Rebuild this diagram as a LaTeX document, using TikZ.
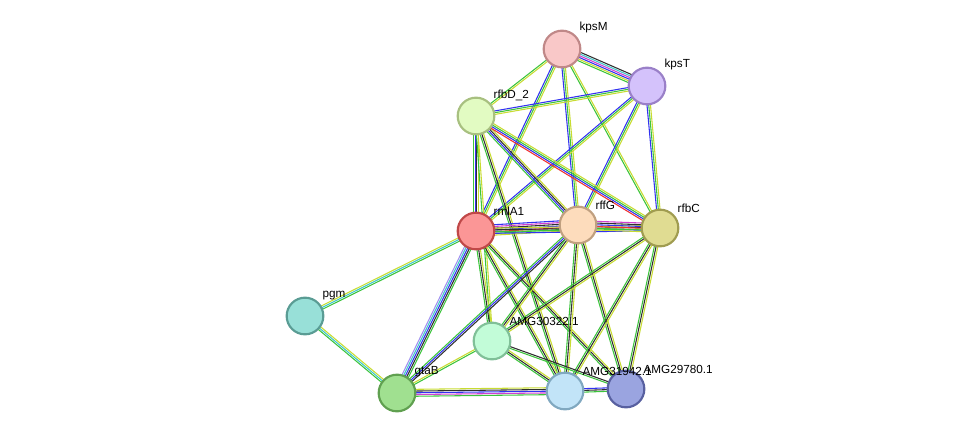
\documentclass[tikz,border=0pt]{standalone}
\usepackage{fontspec}
\setmainfont{Liberation Sans}
\usetikzlibrary{calc}
\pgfdeclarelayer{bg}\pgfsetlayers{bg,main}
\definecolor{G}{HTML}{3CC43C}
\definecolor{Y}{HTML}{C8DC32}
\definecolor{B}{HTML}{3232F0}
\definecolor{K}{HTML}{303030}
\definecolor{R}{HTML}{F03030}
\definecolor{M}{HTML}{D040D0}
\definecolor{C}{HTML}{40C8C8}
\definecolor{P}{HTML}{A090F0}
\newcommand\prt[3]{\definecolor{#1f}{HTML}{#2}\definecolor{#1d}{HTML}{#3}}
\prt{kpsM}{F9C8C8}{C08888}
\prt{kpsT}{D4C2FB}{9A80C8}
\prt{rfbD}{E2FBC2}{A8C080}
\prt{rmlA}{FB9696}{C04848}
\prt{rffG}{FDDCBC}{C0A080}
\prt{rfbC}{E0DC92}{A09C50}
\prt{pgm}{98E0D8}{5A9C94}
\prt{aa}{C2FCD8}{80C098}
\prt{gtaB}{A0E090}{60A050}
\prt{ab}{C2E4F8}{80A8C0}
\prt{ac}{9AA4E0}{5860A0}
\newcommand\edg[3]{%
 \def\nn{0}\foreach \c in {#3}{\xdef\nn{\number\numexpr\nn+1}}%
 \foreach \c [count=\i] in {#3}{%
  \pgfmathsetmacro\off{(\i-1-(\nn-1)/2)*1.3}%
  \draw[\c,line width=0.8pt] ($(#1)!\off pt!90:(#2)$) -- ($(#2)!\off pt!-90:(#1)$);}}
\tikzset{prot/.style={circle,minimum size=27.5pt,inner sep=0pt,fill=#1f,draw=#1d,line width=1.6pt},
 lab/.style={font=\fontsize{8.8pt}{10pt}\selectfont,anchor=south west,inner sep=1pt}}
\begin{document}
\begin{tikzpicture}[x=0.75pt,y=-0.75pt]
\useasboundingbox (0,0) rectangle (975,439);
\node[prot=kpsM] (kpsM) at (562,49) {};
\node[prot=kpsT] (kpsT) at (647,86) {};
\node[prot=rfbD] (rfbD) at (476,116) {};
\node[prot=rmlA] (rmlA) at (476,231) {};
\node[prot=rffG] (rffG) at (578,225) {};
\node[prot=rfbC] (rfbC) at (660,228) {};
\node[prot=pgm] (pgm) at (305,316) {};
\node[prot=aa] (a322) at (492,341) {};
\node[prot=gtaB] (gtaB) at (397,393) {};
\node[prot=ab] (a319) at (565,391) {};
\node[prot=ac] (a297) at (626,389) {};
\node[lab] (l1) at (578,35) {kpsM};
\node[lab] (l2) at (663,72) {kpsT};
\node[lab] (l3) at (492,102) {rfbD\_2};
\node[lab] (l4) at (492,217) {rmlA1};
\node[lab] (l5) at (594,211) {rffG};
\node[lab] (l6) at (676,214) {rfbC};
\node[lab] (l7) at (321,302) {pgm};
\node[lab] (l8) at (508,327) {AMG30322.1};
\node[lab] (l9) at (413,379) {gtaB};
\node[lab] (l10) at (581,377) {AMG31942.1};
\node[lab] (l11) at (642,375) {AMG29780.1};
\begin{pgfonlayer}{bg}
\edg{kpsM}{kpsT}{G,Y,B,M,C,K}
\edg{kpsM}{rfbD}{G,Y}
\edg{kpsM}{rmlA}{B,G,Y}
\edg{kpsM}{rffG}{B,G,Y}
\edg{kpsM}{rfbC}{G,Y}
\edg{kpsT}{rfbD}{B,G,Y}
\edg{kpsT}{rmlA}{B,G,Y}
\edg{kpsT}{rffG}{B,G,Y}
\edg{kpsT}{rfbC}{B,G,Y}
\edg{rfbD}{rmlA}{G,B,K,Y}
\edg{rfbD}{rffG}{G,B,K,Y}
\edg{rfbD}{rfbC}{R,B,G,Y}
\edg{rfbD}{a322}{G,Y}
\edg{rfbD}{a319}{G,K,Y}
\edg{rmlA}{rffG}{Y,G,R,B,K,M,B}
\edg{rmlA}{rfbC}{B,G,K,Y}
\edg{pgm}{rmlA}{G,C,Y}
\edg{pgm}{gtaB}{G,C,Y}
\edg{rmlA}{gtaB}{P,C,B,K,G}
\edg{rmlA}{a322}{G,K,Y}
\edg{rmlA}{a319}{G,K,Y}
\edg{rmlA}{a297}{G,K,Y}
\edg{rffG}{gtaB}{G,B,K}
\edg{rffG}{a322}{G,K,Y}
\edg{rffG}{a319}{G,K,Y}
\edg{rffG}{a297}{G,K,Y}
\edg{rffG}{rfbC}{Y,G,R,B,K,M}
\edg{rfbC}{a322}{G,K,Y}
\edg{rfbC}{a319}{G,K,Y}
\edg{rfbC}{a297}{G,K,Y}
\edg{gtaB}{a322}{G,Y}
\edg{gtaB}{a319}{G,M,B,K,Y}
\edg{a322}{a319}{G,K,Y}
\edg{a322}{a297}{G,K}
\edg{a319}{a297}{G,K,B}
\end{pgfonlayer}
\end{tikzpicture}
\end{document}
